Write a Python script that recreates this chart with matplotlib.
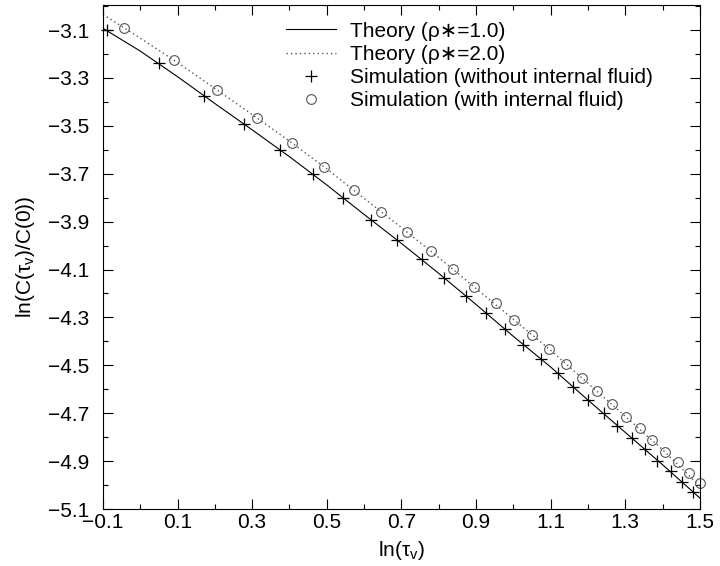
import numpy as np
import matplotlib
matplotlib.use("Agg")
import matplotlib.pyplot as plt
from matplotlib.ticker import MultipleLocator, FuncFormatter
from matplotlib.legend_handler import HandlerLine2D

plt.rcParams['font.family'] = ['Liberation Sans', 'DejaVu Sans']
plt.rcParams['font.size'] = 15
plt.rcParams['mathtext.fontset'] = 'custom'
plt.rcParams['mathtext.rm'] = 'Liberation Sans'

# theory curves, read on a 0.1 grid
theory_x = [-0.1, 0.0, 0.1, 0.2, 0.3, 0.4, 0.5, 0.6, 0.7, 0.8,
            0.9, 1.0, 1.1, 1.2, 1.3, 1.4, 1.5]
theory_rho1 = [-3.093, -3.188, -3.295, -3.407, -3.517, -3.629, -3.747, -3.870, -3.991,
               -4.116, -4.246, -4.379, -4.507, -4.645, -4.780, -4.915, -5.054]
theory_rho2 = [-3.035, -3.134, -3.236, -3.344, -3.453, -3.564, -3.680, -3.803, -3.925,
               -4.050, -4.179, -4.308, -4.437, -4.575, -4.713, -4.852, -5.005]

# simulation without internal fluid (+)
sim1_x = [-0.089, 0.050, 0.171, 0.278, 0.375, 0.463, 0.543, 0.619, 0.688, 0.755,
          0.814, 0.873, 0.927, 0.978, 1.026, 1.074, 1.120, 1.160, 1.200, 1.243,
          1.278, 1.318, 1.353, 1.385, 1.423, 1.452, 1.482]
sim1_y = [-3.100, -3.238, -3.376, -3.492, -3.601, -3.701, -3.801, -3.893, -3.977, -4.056,
          -4.135, -4.211, -4.282, -4.348, -4.415, -4.474, -4.532, -4.590, -4.645, -4.699,
          -4.753, -4.803, -4.849, -4.899, -4.941, -4.987, -5.029]

# simulation with internal fluid (o)
sim2_x = [-0.044, 0.090, 0.206, 0.313, 0.407, 0.493, 0.573, 0.645, 0.715, 0.779,
          0.838, 0.895, 0.954, 1.002, 1.050, 1.096, 1.141, 1.184, 1.224, 1.265,
          1.302, 1.340, 1.372, 1.407, 1.442, 1.471, 1.501]
sim2_y = [-3.092, -3.225, -3.351, -3.467, -3.572, -3.672, -3.768, -3.860, -3.943, -4.023,
          -4.098, -4.173, -4.240, -4.311, -4.373, -4.432, -4.494, -4.553, -4.607, -4.661,
          -4.716, -4.762, -4.812, -4.862, -4.904, -4.950, -4.991]


class EndMarkerHandler(HandlerLine2D):
    """put the legend marker at the right end of the handle, like xmgrace"""
    def get_xdata(self, legend, xdescent, ydescent, width, height, fontsize):
        xdata = np.array([-xdescent, -xdescent + width])
        xdata_marker = np.array([-xdescent + width - 0.25 * fontsize])
        return xdata, xdata_marker


def fmt(v, pos):
    return ('%.1f' % v).replace('-', '\u2212')


fig = plt.figure(figsize=(7.2, 5.66), dpi=100)
ax = fig.add_axes([0.143, 0.1007, 0.829, 0.8903])

ax.plot(theory_x, theory_rho1, '-', color='black', lw=0.8, label='Theory (ρ∗=1.0)')
ax.plot(theory_x, theory_rho2, ':', color='#555555', lw=1.0, dashes=(1, 2.2),
        label='Theory (ρ∗=2.0)')
p1, = ax.plot(sim1_x, sim1_y, '+', color='black', ms=9, mew=0.9, ls='none',
              label='Simulation (without internal fluid)', clip_on=False)
p2, = ax.plot(sim2_x, sim2_y, 'o', mfc='none', mec='#555555', ms=7, mew=0.8, ls='none',
              label='Simulation (with internal fluid)', clip_on=False)

ax.set_xlim(-0.1, 1.5)
ax.set_ylim(-5.1, -2.996)
ax.xaxis.set_minor_locator(MultipleLocator(0.1))
ax.yaxis.set_minor_locator(MultipleLocator(0.1))
ax.set_xticks(np.arange(-0.1, 1.51, 0.2))
ax.set_yticks(np.arange(-5.1, -3.09, 0.2))
ax.xaxis.set_major_formatter(FuncFormatter(fmt))
ax.yaxis.set_major_formatter(FuncFormatter(fmt))
ax.tick_params(which='both', direction='in', top=True, right=True, width=0.8)
ax.tick_params(which='major', length=7, labelsize=15)
ax.tick_params(axis='x', which='major', pad=3)
ax.tick_params(axis='y', which='major', pad=10)
ax.tick_params(which='minor', length=3.5)
for s in ax.spines.values():
    s.set_linewidth(0.8)

ax.set_xlabel(r'ln(τ$_\mathrm{v}$)', fontsize=15, labelpad=5)
ax.set_ylabel(r'ln(C(τ$_\mathrm{v}$)/C(0))', fontsize=15, labelpad=8)

ax.legend(loc='upper right', frameon=False, fontsize=15, handlelength=2.4,
          handletextpad=0.7, labelspacing=0.2, borderaxespad=0.4,
          bbox_to_anchor=(0.95, 1.0),
          handler_map={p1: EndMarkerHandler(numpoints=1), p2: EndMarkerHandler(numpoints=1)})

fig.savefig('out.png', dpi=100)
